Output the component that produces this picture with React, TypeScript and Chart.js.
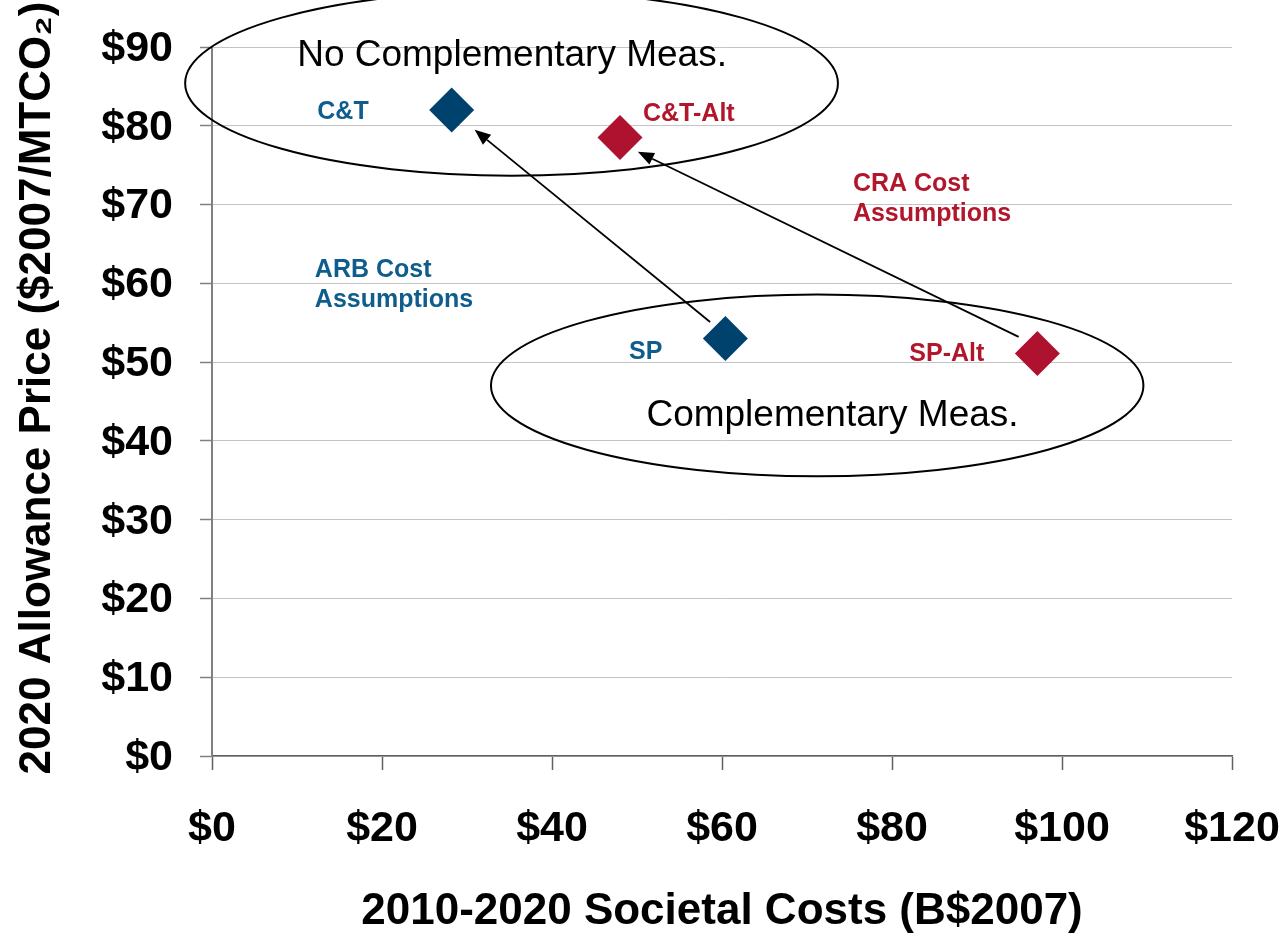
import React, { useEffect, useRef } from "react";
import { Chart, registerables } from "chart.js";

Chart.register(...registerables);

// ---- Data ----
const ARB_LABELS = ["C&T", "SP"];
const ARB_COST = [28.2, 60.4]; // 2010-2020 societal costs, B$2007
const ARB_PRICE = [82.0, 53.0]; // 2020 allowance price, $2007/MTCO2

const CRA_LABELS = ["C&T-Alt", "SP-Alt"];
const CRA_COST = [48.0, 97.1];
const CRA_PRICE = [78.5, 51.1];

const X_MIN = 0;
const X_MAX = 120;
const X_STEP = 20;
const Y_MIN = 0;
const Y_MAX = 90;
const Y_STEP = 10;

const X_TITLE = "2010-2020 Societal Costs (B$2007)";
const Y_TITLE = "2020 Allowance Price ($2007/MTCO\u2082)";

// ---- Styling ----
const FONT = "'Liberation Sans', Arial, Helvetica, sans-serif";
const BLUE_MARK = "#00426E";
const BLUE_TEXT = "#0E5D8C";
const RED_MARK = "#AE122E";
const RED_TEXT = "#B2162B";
const NUDGE = 2.5; // visual centring of 'middle' baseline text

// annotation shapes (data coordinates)
const ELLIPSES = [
  { cx: 35.24, cy: 85.4, rx: 38.4, ry: 11.73, text: "No Complementary Meas.", tx: 35.3, ty: 89.2 },
  { cx: 71.2, cy: 47.04, rx: 38.38, ry: 11.54, text: "Complementary Meas.", tx: 73.0, ty: 43.5 },
];
const ARROWS = [
  { x0: 58.6, y0: 55.1, x1: 30.9, y1: 79.5 },
  { x0: 94.9, y0: 53.2, x1: 50.1, y1: 76.7 },
];
const GROUP_NOTES = [
  { x: 12.1, y: 62.0, lines: ["ARB Cost", "Assumptions"], color: BLUE_TEXT },
  { x: 75.4, y: 72.9, lines: ["CRA Cost", "Assumptions"], color: RED_TEXT },
];
// point label placement relative to marker (pixels)
const LABEL_PLACE: Record<string, { dx: number; dy: number; align: CanvasTextAlign }> = {
  "C&T": { dx: -83, dy: 0, align: "right" },
  "SP": { dx: -63, dy: 11, align: "right" },
  "C&T-Alt": { dx: 23, dy: -26, align: "left" },
  "SP-Alt": { dx: -53, dy: -2, align: "right" },
};

const annotPlugin = {
  id: "annot",
  afterDatasetsDraw(chart: any) {
    const { ctx, scales } = chart;
    const xs = scales.x;
    const ys = scales.y;
    const px = (v: number) => xs.getPixelForValue(v);
    const py = (v: number) => ys.getPixelForValue(v);
    ctx.save();

    // ellipses
    ctx.strokeStyle = "#000";
    ctx.lineWidth = 2;
    ELLIPSES.forEach((e) => {
      const cx = px(e.cx);
      const cy = py(e.cy);
      const rx = Math.abs(px(e.cx + e.rx) - cx);
      const ry = Math.abs(py(e.cy + e.ry) - cy);
      ctx.beginPath();
      ctx.ellipse(cx, cy, rx, ry, 0, 0, Math.PI * 2);
      ctx.stroke();
      ctx.fillStyle = "#000";
      ctx.font = `normal 37px ${FONT}`;
      ctx.textAlign = "center";
      ctx.textBaseline = "middle";
      ctx.fillText(e.text, px(e.tx), py(e.ty) + NUDGE);
    });

    // arrows
    ARROWS.forEach((a) => {
      const x0 = px(a.x0), y0 = py(a.y0), x1 = px(a.x1), y1 = py(a.y1);
      const ang = Math.atan2(y1 - y0, x1 - x0);
      const len = 16, half = 6.5;
      const bx = x1 - Math.cos(ang) * len;
      const by = y1 - Math.sin(ang) * len;
      ctx.strokeStyle = "#000";
      ctx.lineWidth = 1.8;
      ctx.beginPath();
      ctx.moveTo(x0, y0);
      ctx.lineTo(bx, by);
      ctx.stroke();
      ctx.fillStyle = "#000";
      ctx.beginPath();
      ctx.moveTo(x1, y1);
      ctx.lineTo(bx + Math.sin(ang) * half, by - Math.cos(ang) * half);
      ctx.lineTo(bx - Math.sin(ang) * half, by + Math.cos(ang) * half);
      ctx.closePath();
      ctx.fill();
    });

    // point labels
    ctx.font = `bold 25px ${FONT}`;
    ctx.textBaseline = "middle";
    chart.data.datasets.forEach((ds: any, di: number) => {
      const meta = chart.getDatasetMeta(di);
      meta.data.forEach((pt: any, i: number) => {
        const name = ds.pointNames[i];
        const pl = LABEL_PLACE[name];
        ctx.fillStyle = ds.textColor;
        ctx.textAlign = pl.align;
        ctx.fillText(name, pt.x + pl.dx, pt.y + pl.dy + NUDGE);
      });
    });

    // group notes
    GROUP_NOTES.forEach((g) => {
      ctx.fillStyle = g.color;
      ctx.textAlign = "left";
      g.lines.forEach((ln, i) => ctx.fillText(ln, px(g.x), py(g.y) + i * 30 + NUDGE));
    });

    ctx.restore();
  },
  afterDraw(chart: any) {
    const { ctx, chartArea } = chart;
    ctx.save();
    ctx.fillStyle = "#000";
    ctx.font = `bold 44px ${FONT}`;
    ctx.textAlign = "center";
    ctx.textBaseline = "middle";
    ctx.fillText(X_TITLE, (chartArea.left + chartArea.right) / 2, 909 + NUDGE);
    ctx.translate(38, 388);
    ctx.rotate(-Math.PI / 2);
    ctx.fillText(Y_TITLE, 0, 0);
    ctx.restore();
  },
};

export default function App() {
  const ref = useRef<HTMLCanvasElement | null>(null);

  useEffect(() => {
    if (!ref.current) return;
    const chart = new Chart(ref.current, {
      type: "scatter",
      data: {
        datasets: [
          {
            label: "ARB Cost Assumptions",
            data: ARB_COST.map((c, i) => ({ x: c, y: ARB_PRICE[i] })),
            pointNames: ARB_LABELS,
            textColor: BLUE_TEXT,
            backgroundColor: BLUE_MARK,
            borderColor: BLUE_MARK,
            borderWidth: 0,
            pointStyle: "rectRot",
            pointRadius: 22.5,
            pointHoverRadius: 22.5,
          } as any,
          {
            label: "CRA Cost Assumptions",
            data: CRA_COST.map((c, i) => ({ x: c, y: CRA_PRICE[i] })),
            pointNames: CRA_LABELS,
            textColor: RED_TEXT,
            backgroundColor: RED_MARK,
            borderColor: RED_MARK,
            borderWidth: 0,
            pointStyle: "rectRot",
            pointRadius: 22.5,
            pointHoverRadius: 22.5,
          } as any,
        ],
      },
      options: {
        responsive: false,
        animation: false,
        events: [],
        layout: { padding: { top: 47, right: 52, left: 0, bottom: 0 } },
        plugins: {
          legend: { display: false },
          tooltip: { enabled: false },
        },
        scales: {
          x: {
            type: "linear",
            min: X_MIN,
            max: X_MAX,
            ticks: {
              stepSize: X_STEP,
              padding: 38,
              color: "#000",
              font: { family: FONT, size: 43, weight: "bold", lineHeight: 1 },
              callback: (v: any) => "$" + v,
              maxRotation: 0,
            },
            grid: {
              drawOnChartArea: false,
              drawTicks: true,
              tickLength: 14,
              tickColor: "#606060",
              tickWidth: 1.5,
            },
            border: { color: "#606060", width: 1.5 },
            afterFit: (s: any) => {
              s.height = 177;
              s.paddingLeft = 0;
              s.paddingRight = 0;
            },
          },
          y: {
            type: "linear",
            min: Y_MIN,
            max: Y_MAX,
            ticks: {
              stepSize: Y_STEP,
              padding: 27,
              labelOffset: 2,
              color: "#000",
              font: { family: FONT, size: 43, weight: "bold", lineHeight: 1 },
              callback: (v: any) => "$" + v,
            },
            grid: {
              color: "#C4C4C4",
              lineWidth: 1,
              drawTicks: true,
              tickLength: 12,
              tickColor: "#808080",
              tickWidth: 1.5,
            },
            border: { color: "#808080", width: 2 },
            afterFit: (s: any) => {
              s.width = 212;
              s.paddingTop = 0;
              s.paddingBottom = 0;
            },
          },
        },
      } as any,
      plugins: [annotPlugin],
    });
    return () => chart.destroy();
  }, []);

  return (
    <div style={{ position: "absolute", left: 0, top: 0, width: 1284, height: 933, background: "#fff" }}>
      <canvas ref={ref} width={1284} height={933} style={{ display: "block" }} />
    </div>
  );
}
